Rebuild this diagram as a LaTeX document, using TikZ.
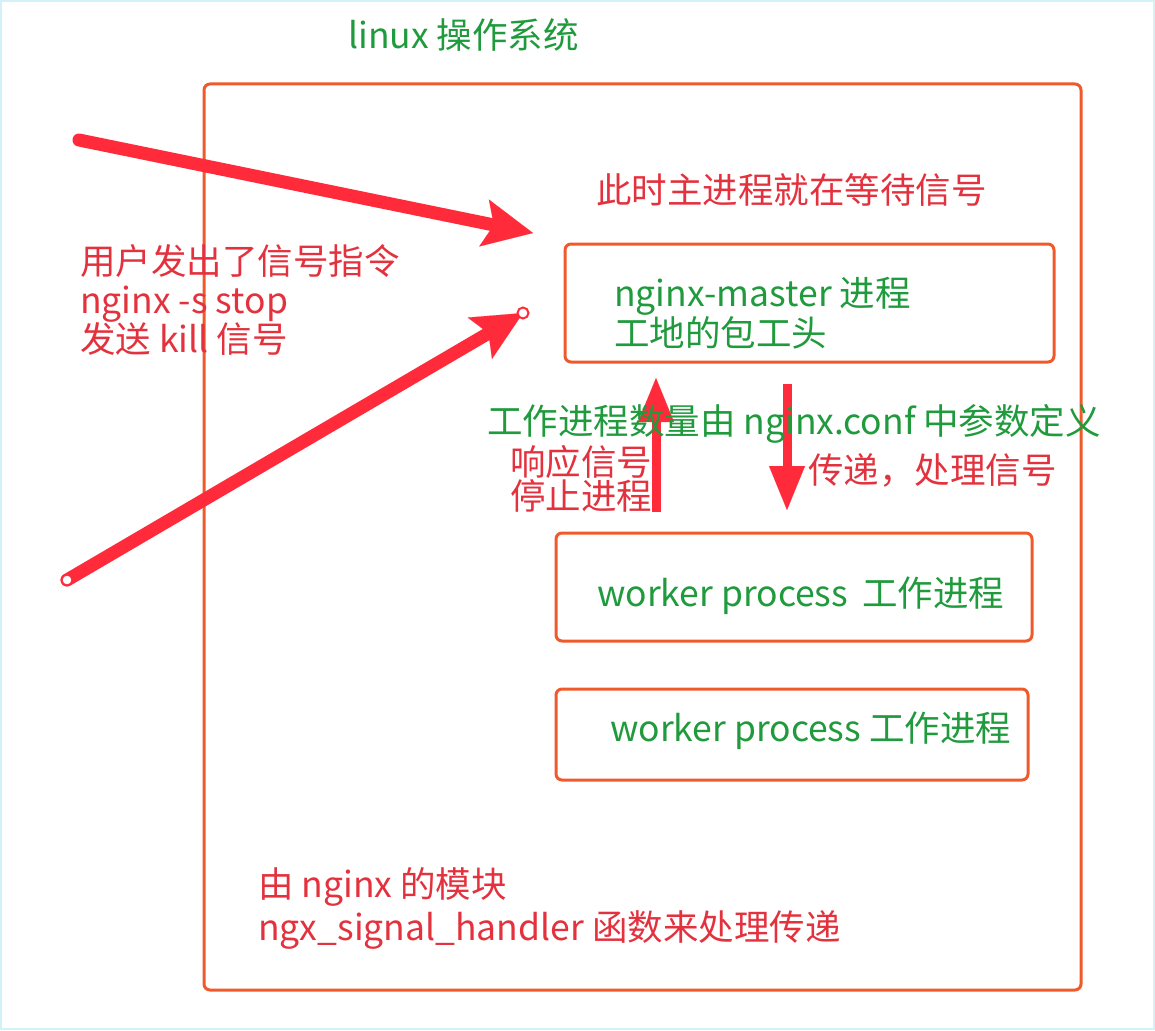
\documentclass[tikz,border=0pt]{standalone}
\usepackage{fontspec}
\setmainfont{Noto Sans CJK SC}
\usetikzlibrary{arrows.meta,positioning}
\definecolor{boxC}{HTML}{F05A2B}
\definecolor{sigC}{HTML}{FF2B3B}
\definecolor{redT}{HTML}{E3323E}
\definecolor{greenT}{HTML}{1F9A3C}
\definecolor{frameC}{HTML}{D2F2F8}
\tikzset{
  procbox/.style={draw=boxC,line width=3pt,rounded corners=6pt,inner sep=0pt},
  rtxt/.style={font=\fontsize{35.5}{#1}\selectfont,text=redT,anchor=west,inner sep=0pt,align=left},
  rtxt/.default=40,
  gtxt/.style={font=\fontsize{35.5}{#1}\selectfont,text=greenT,anchor=west,inner sep=0pt,align=left},
  gtxt/.default=40,
  bigsig/.style={sigC,line width=13pt,line cap=round,
    -{Stealth[length=50pt,width=48pt,inset=10pt,line width=0.1pt]}},
  vsig/.style={sigC,line width=9pt,-{Triangle[length=44pt,width=36pt,line width=0.1pt]}},
  handle/.style={circle,draw=sigC,fill=white,line width=2pt,minimum size=11pt,inner sep=0pt}}
\begin{document}
\begin{tikzpicture}[x=1pt,y=-1pt]
\useasboundingbox (0,0) rectangle (1155,1030);
\draw[frameC,line width=2pt] (1,1) rectangle (1154,1029);
% boxes
\node[procbox,minimum width=877pt,minimum height=906pt] (os) at (642.5,537) {};
\node[procbox,minimum width=489pt,minimum height=118pt] (master) at (809.5,303) {};
\node[procbox,minimum width=476pt,minimum height=108pt] (workA) at (794,587) {};
\node[procbox,minimum width=472pt,minimum height=91pt] (workB) at (792,734.5) {};
\node[gtxt] (title) at (348,35) {linux 操作系统};
% signal arrows
\coordinate (sigA0) at (79,140);
\coordinate (sigA1) at (533,233);
\coordinate (sigB0) at (67,580);
\coordinate (sigB1) at (523,313);
\draw[bigsig] (sigA0) -- (sigA1);
\draw[bigsig] (sigB0) -- (sigB1);
\node[handle] (hB0) at (sigB0) {};
\node[handle] (hB1) at (sigB1) {};
\coordinate (up0) at (656,512);
\coordinate (up1) at (656,378);
\coordinate (dn0) at (787,384);
\coordinate (dn1) at (787,510);
\draw[vsig] (up0) -- (up1);
\draw[vsig] (dn0) -- (dn1);
% texts
\node[rtxt=39] (user) at (80,300) {用户发出了信号指令\\nginx -s stop\\发送 kill 信号};
\node[rtxt] (wait) at (596,190) {此时主进程就在等待信号};
\node[gtxt] (mtxt) at (614,313) {nginx-master 进程\\工地的包工头};
\node[gtxt] (count) at (487,424) {工作进程数量由 nginx.conf 中参数定义};
\node[rtxt=33] (resp) at (510,479) {响应信号\\停止进程};
\node[rtxt] (pass) at (808,470) {传递，处理信号};
\node[gtxt] (wtxtA) at (597,596) {worker process\, 工作进程};
\node[gtxt] (wtxtB) at (610,731) {worker process 工作进程};
\node[rtxt=43] (mod) at (258,908) {由 nginx 的模块\\ngx\_signal\_handler 函数来处理传递};
\end{tikzpicture}
\end{document}
